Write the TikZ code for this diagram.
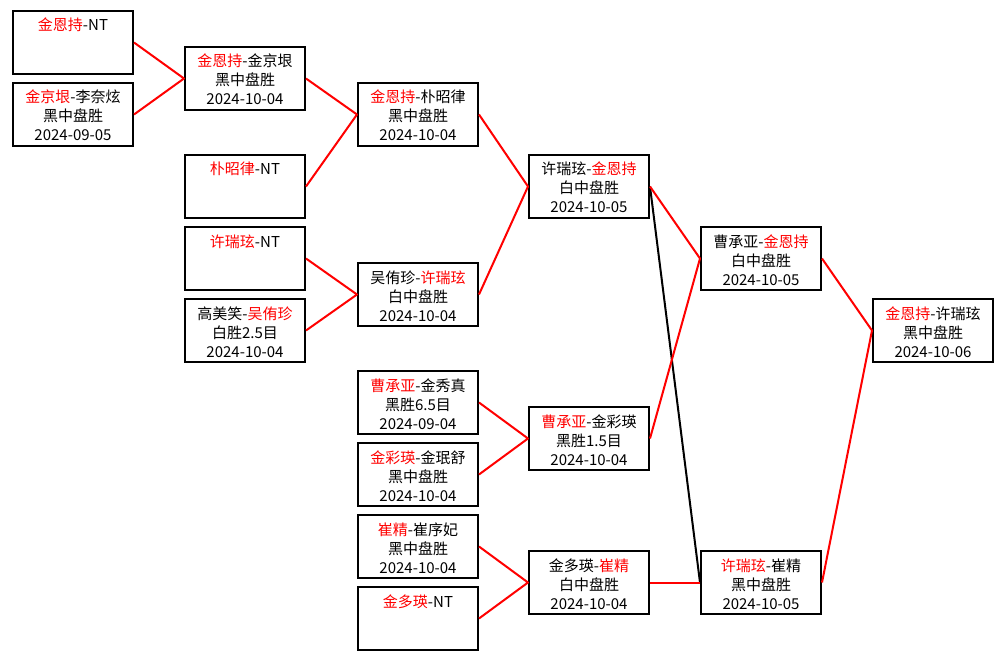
\documentclass[tikz,border=0pt]{standalone}
\usepackage{fontspec}
\setmainfont{Noto Sans CJK SC}
\newcommand\winner[1]{\textcolor{red}{#1}}
\newcommand\gamebox[3]{\parbox[c][63pt][t]{120pt}{\centering\rule{0pt}{20pt}#1\\\mbox{}#2\\\mbox{}#3}}

\begin{document}
\begin{tikzpicture}[x=1pt, y=-1pt,
  game/.style={draw, line width=2pt, minimum width=120pt, minimum height=63pt,
    inner sep=0pt, font=\fontsize{15}{19}\selectfont},
  win/.style={red, line width=2pt, line join=round},
  lose/.style={black, line width=2pt}]
  \fill[white] (0,0) rectangle (1005,661);
  % first column
  \node[game] (a1) at (73,42.5)  {\gamebox{\winner{金恩持}-NT}{}{}};
  \node[game] (a2) at (73,114.5) {\gamebox{\winner{金京垠}-李奈炫}{黑中盘胜}{2024-09-05}};
  % second column
  \node[game] (b1) at (245,78.5)  {\gamebox{\winner{金恩持}-金京垠}{黑中盘胜}{2024-10-04}};
  \node[game] (b2) at (245,186.5) {\gamebox{\winner{朴昭律}-NT}{}{}};
  \node[game] (b3) at (245,258.5) {\gamebox{\winner{许瑞玹}-NT}{}{}};
  \node[game] (b4) at (245,330.5) {\gamebox{高美笑-\winner{吴侑珍}}{白胜2.5目}{2024-10-04}};
  % third column
  \node[game] (c1) at (418,114.5) {\gamebox{\winner{金恩持}-朴昭律}{黑中盘胜}{2024-10-04}};
  \node[game] (c2) at (418,294.5) {\gamebox{吴侑珍-\winner{许瑞玹}}{白中盘胜}{2024-10-04}};
  \node[game] (d1) at (418,402.5) {\gamebox{\winner{曹承亚}-金秀真}{黑胜6.5目}{2024-09-04}};
  \node[game] (d2) at (418,474.5) {\gamebox{\winner{金彩瑛}-金珉舒}{黑中盘胜}{2024-10-04}};
  \node[game] (d3) at (418,546.5) {\gamebox{\winner{崔精}-崔序妃}{黑中盘胜}{2024-10-04}};
  \node[game] (d4) at (418,618.5) {\gamebox{\winner{金多瑛}-NT}{}{}};
  % fourth column
  \node[game] (e1) at (589,186.5) {\gamebox{许瑞玹-\winner{金恩持}}{白中盘胜}{2024-10-05}};
  \node[game] (e2) at (589,438.5) {\gamebox{\winner{曹承亚}-金彩瑛}{黑胜1.5目}{2024-10-04}};
  \node[game] (e3) at (589,582.5) {\gamebox{金多瑛-\winner{崔精}}{白中盘胜}{2024-10-04}};
  % fifth column
  \node[game] (f1) at (761,258.5) {\gamebox{曹承亚-\winner{金恩持}}{白中盘胜}{2024-10-05}};
  \node[game] (f2) at (761,582.5) {\gamebox{\winner{许瑞玹}-崔精}{黑中盘胜}{2024-10-05}};
  % final
  \node[game] (g)  at (933,330.5) {\gamebox{\winner{金恩持}-许瑞玹}{黑中盘胜}{2024-10-06}};
  \draw[lose](e1.east)--(f2.west);
  \draw[win](a1.east)--(b1.west)--(a2.east);
  \draw[win](b1.east)--(c1.west)--(b2.east);
  \draw[win](b3.east)--(c2.west)--(b4.east);
  \draw[win](c1.east)--(e1.west)--(c2.east);
  \draw[win](d1.east)--(e2.west)--(d2.east);
  \draw[win](d3.east)--(e3.west)--(d4.east);
  \draw[win](e1.east)--(f1.west)--(e2.east);
  \draw[win](e3.east)--(f2.west);
  \draw[win](f1.east)--(g.west)--(f2.east);
\end{tikzpicture}
\end{document}
